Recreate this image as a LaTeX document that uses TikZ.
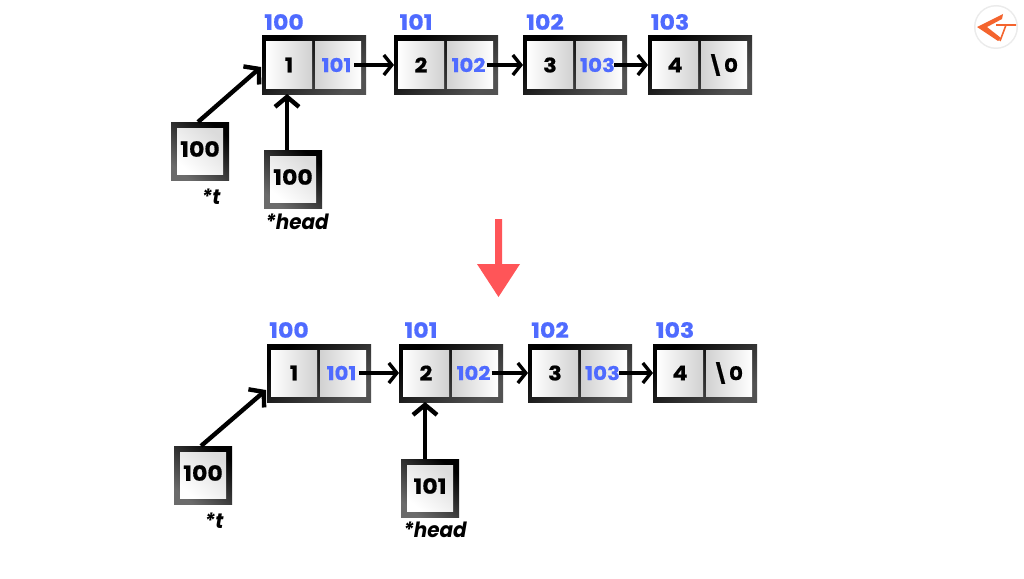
\documentclass[tikz,border=0pt]{standalone}
\usepackage{fontspec}
\setmainfont{Poppins}[FakeStretch=1.12,BoldFeatures={FakeBold=0.6}]
\newfontfamily\lblfont{Poppins}[FakeStretch=0.95,BoldFeatures={FakeBold=0.6}]
\usetikzlibrary{arrows.meta}
\definecolor{addr}{HTML}{4F6BFF}
\definecolor{redarrow}{HTML}{FF5558}
\definecolor{logo}{HTML}{F4642E}
\tikzset{
  every node/.style={inner sep=0pt,outer sep=0pt},
  frame/.style={anchor=north west,minimum width=104pt,minimum height=58pt,
    top color=black,bottom color=black!68,shading angle=40},
  cell/.style={anchor=north west,minimum width=46pt,minimum height=46pt,
    left color=white,right color=black!18},
  cellr/.style={anchor=north west,minimum width=46pt,minimum height=46pt,
    left color=black!18,right color=white},
  pframe/.style={anchor=north west,minimum width=58pt,minimum height=58pt,
    top color=black,bottom color=black!58,shading angle=-40},
  pcell/.style={anchor=center,minimum width=46pt,minimum height=46pt,
    top color=black!14,bottom color=white,shading angle=-40},
  val/.style={font=\fontsize{20}{20}\bfseries\selectfont,text=black},
  pval/.style={font=\fontsize{21}{21}\bfseries\selectfont,text=black},
  nxt/.style={font=\fontsize{19}{19}\bfseries\selectfont,text=addr},
  adr/.style={font=\fontsize{21}{21}\bfseries\selectfont,text=addr},
  lbl/.style={font=\lblfont\fontsize{21}{21}\bfseries\itshape\selectfont,text=black},
  link/.style={line width=3.4pt,-{Straight Barb[length=8pt,width=20pt,line width=3.4pt]}},
  ptr/.style={line width=4.4pt,-{Straight Barb[length=10pt,width=24pt,line width=4.4pt]}},
}
\newcommand{\listnode}[7]{%
  % id, x, y, value, next text, next colour, address
  \node[frame] (#1) at (#2,#3) {};
  \node[cell] (#1a) at (#2+4,#3+6) {};
  \node[cellr] (#1b) at (#2+53,#3+6) {};
  \node[val] (#1v) at (#1a.center) {#4};
  \node[nxt,text=#6] (#1n) at ([xshift=-1.5pt]#1b.center) {#5};
  \node[adr] (#1h) at (#2+22,#3-14) {#7};
}
\newcommand{\ptrbox}[4]{%
  % id, x, y, value
  \node[pframe] (#1) at (#2,#3) {};
  \node[pcell] (#1c) at (#1.center) {};
  \node[pval] (#1v) at ([yshift=2pt]#1.center) {#4};
}
\begin{document}
\begin{tikzpicture}[x=1pt,y=-1pt]
\useasboundingbox (0,0) rectangle (1024,578);
\fill[white] (0,0) rectangle (1024,578);
% top list
\listnode{a}{262}{36}{1}{101}{addr}{100}
\listnode{b}{394}{36}{2}{102}{addr}{101}
\listnode{c}{523}{36}{3}{103}{addr}{102}
\listnode{d}{648}{36}{4}{\textbackslash 0}{black}{103}
\draw[link] (an.east) ++(3,0) -- (b.west);
\draw[link] (bn.east) ++(1,0) -- (c.west);
\draw[link] (cn.east) ++(-1,0) -- (d.west);
\ptrbox{t}{171}{122}{100}
\ptrbox{h}{264}{150}{100}
\node[lbl] (tl) at (211,197) {*t};
\node[lbl] (hl) at (297,222) {*head};
\coordinate (ain) at (261,67);
\coordinate (tout) at (198,122);
\draw[ptr] (tout) -- (ain);
\draw[ptr] (287,150) -- (287,94);
% red arrow
\fill[redarrow] (495,219) -- (502,219) -- (502,264) -- (520,264) -- (498.5,297) -- (477,264) -- (495,264) -- cycle;
% bottom list
\listnode{e}{267}{344}{1}{101}{addr}{100}
\listnode{f}{399}{344}{2}{102}{addr}{101}
\listnode{g}{528}{344}{3}{103}{addr}{102}
\listnode{i}{653}{344}{4}{\textbackslash 0}{black}{103}
\draw[link] (en.east) ++(3,0) -- (f.west);
\draw[link] (fn.east) ++(1,0) -- (g.west);
\draw[link] (gn.east) ++(-1,0) -- (i.west);
\ptrbox{u}{174}{446}{100}
\ptrbox{k}{401}{459}{101}
\node[lbl] (ul) at (214,521) {*t};
\node[lbl] (kl) at (435,530) {*head};
\coordinate (ein) at (266,390);
\coordinate (uout) at (201,446);
\draw[ptr] (uout) -- (ein);
\draw[ptr] (425,459) -- (425,402);
% logo
\fill[black!8] (996,27) circle (22);
\fill[white] (996,27) circle (20.5);
\fill[logo] (977,27) -- (1003,14) -- (1002,19) -- (987,27) -- (1001,38) -- (998,41) -- cycle;
\draw[logo,line width=1.6pt] (996,25) -- (1016,25) (1006,25) -- (1000,41);
\end{tikzpicture}
\end{document}
